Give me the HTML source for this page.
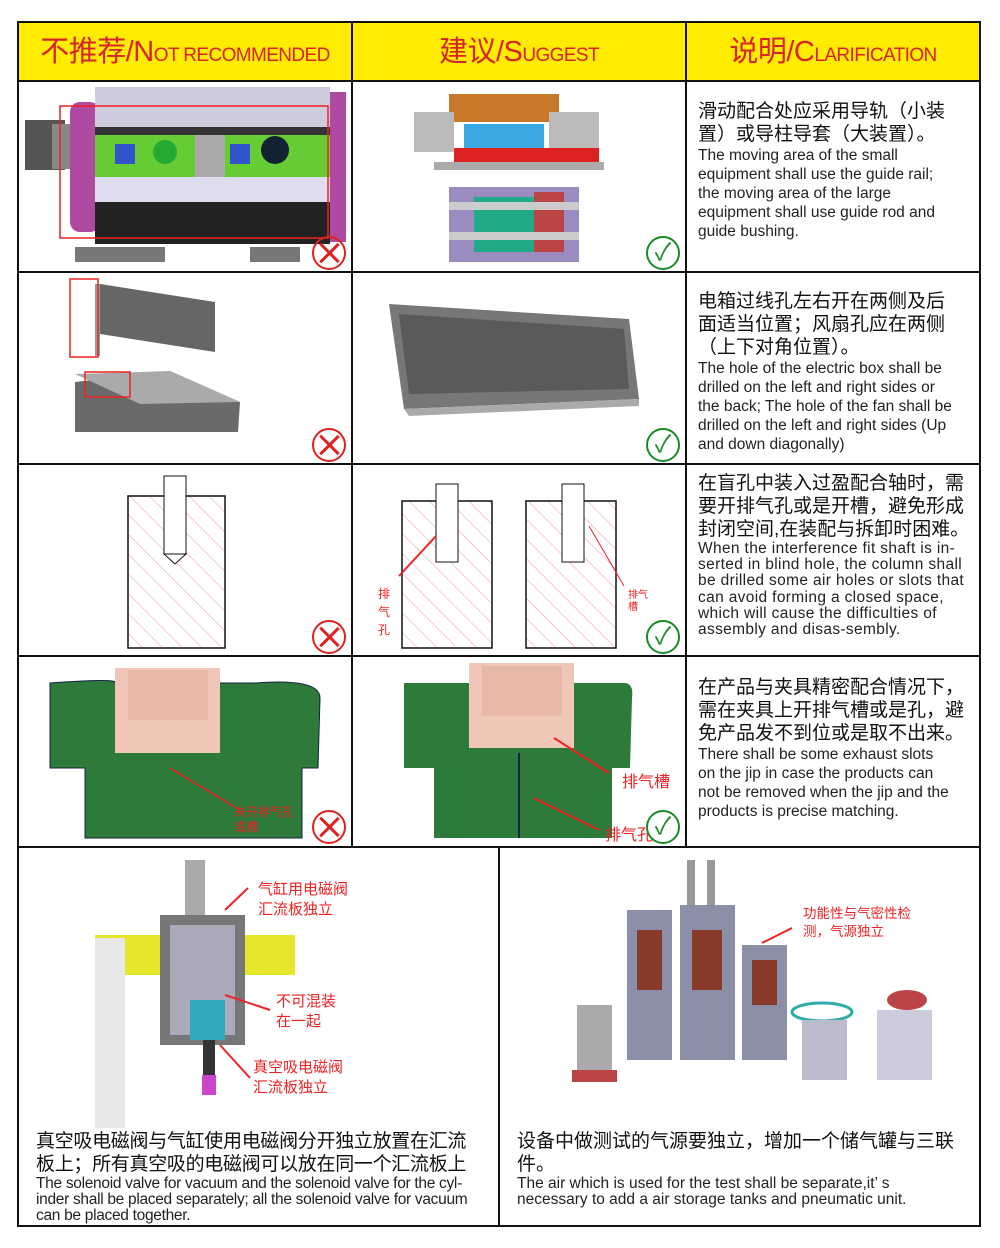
<!DOCTYPE html><html><head><meta charset="utf-8"><style>
body{margin:0;width:1000px;height:1248px;background:#fff;position:relative;overflow:hidden;font-family:"Liberation Sans","Noto Sans CJK SC",sans-serif}
.a{position:absolute}
.h{position:absolute;top:22px;height:58px;background:#ffec00;color:#d9232a;font-size:29px;line-height:60px;text-align:center;font-family:"Liberation Sans","Noto Sans CJK SC",sans-serif;letter-spacing:-0.5px}
.h small{font-size:19px;letter-spacing:-0.6px}
.v{position:absolute;background:#111}
.t{position:absolute;color:#222;font-size:15.5px;line-height:19px}
.t b{font-weight:normal;font-size:19px;line-height:23px;display:block;color:#111}
.x{position:absolute;width:30px;height:30px;border:2.5px solid #d22;border-radius:50%}
.x:before,.x:after{content:"";position:absolute;left:14px;top:2px;width:2.5px;height:26px;background:#d22;transform:rotate(45deg)}
.x:after{transform:rotate(-45deg)}
.c{position:absolute;width:30px;height:30px;border:2.5px solid #1a8a2a;border-radius:50%;color:#1a8a2a;font-size:24px;line-height:30px;text-align:center}
.r{color:#e22;position:absolute;font-size:14px;line-height:20px}
</style></head><body>
<svg width="0" height="0" style="position:absolute"><defs><pattern id="hp" width="14" height="14" patternUnits="userSpaceOnUse" patternTransform="rotate(-45)"><line x1="0" y1="0" x2="0" y2="14" stroke="#f08080" stroke-width="0.8"/></pattern></defs></svg>
<div class="h" style="left:18px;width:334px">不推荐/N<small>OT RECOMMENDED</small></div>
<div class="h" style="left:352px;width:334px">建议/S<small>UGGEST</small></div>
<div class="h" style="left:686px;width:294px">说明/C<small>LARIFICATION</small></div>
<div class="v" style="left:17px;top:21px;width:964px;height:2px"></div>
<div class="v" style="left:17px;top:80px;width:964px;height:2px"></div>
<div class="v" style="left:17px;top:271px;width:964px;height:2px"></div>
<div class="v" style="left:17px;top:463px;width:964px;height:2px"></div>
<div class="v" style="left:17px;top:655px;width:964px;height:2px"></div>
<div class="v" style="left:17px;top:846px;width:964px;height:2px"></div>
<div class="v" style="left:17px;top:1225px;width:964px;height:2px"></div>
<div class="v" style="left:17px;top:21px;width:2px;height:1206px"></div>
<div class="v" style="left:979px;top:21px;width:2px;height:1206px"></div>
<div class="v" style="left:351px;top:21px;width:2px;height:826px"></div>
<div class="v" style="left:685px;top:21px;width:2px;height:826px"></div>
<div class="v" style="left:498px;top:846px;width:2px;height:380px"></div>

<svg class="a" style="left:20px;top:82px" width="330" height="189">
<rect x="5" y="38" width="40" height="50" fill="#555"/><rect x="32" y="42" width="40" height="45" fill="#888"/>
<rect x="50" y="20" width="30" height="130" rx="10" fill="#b04aa0"/>
<rect x="75" y="5" width="235" height="40" fill="#ccd"/><rect x="75" y="45" width="235" height="8" fill="#333"/>
<rect x="75" y="53" width="235" height="42" fill="#6c3"/><rect x="175" y="53" width="30" height="42" fill="#aaa"/>
<circle cx="145" cy="70" r="12" fill="#2a3"/><rect x="95" y="62" width="20" height="20" fill="#35c"/><rect x="210" y="62" width="20" height="20" fill="#35c"/><circle cx="255" cy="68" r="14" fill="#123"/>
<rect x="75" y="95" width="235" height="25" fill="#dde"/><rect x="75" y="120" width="235" height="42" fill="#222"/>
<rect x="310" y="10" width="16" height="150" fill="#b04aa0"/><rect x="55" y="165" width="90" height="15" fill="#777"/><rect x="230" y="165" width="50" height="15" fill="#777"/>
<rect x="40" y="24" width="268" height="132" fill="none" stroke="#e22" stroke-width="1.5"/>
</svg>
<div class="x" style="left:312px;top:236px"></div>
<svg class="a" style="left:354px;top:82px" width="330" height="189">
<rect x="95" y="12" width="110" height="28" fill="#c87a2a"/><rect x="110" y="42" width="80" height="25" fill="#3aa9e0"/>
<rect x="60" y="30" width="40" height="40" fill="#bbb"/><rect x="195" y="30" width="50" height="40" fill="#bbb"/>
<rect x="100" y="66" width="145" height="20" fill="#d22"/><rect x="80" y="80" width="170" height="8" fill="#aaa"/>
<rect x="95" y="105" width="130" height="75" fill="#9a8bc0"/><rect x="120" y="115" width="70" height="55" fill="#2a8"/>
<rect x="180" y="110" width="30" height="60" fill="#b44"/><rect x="95" y="120" width="130" height="8" fill="#ccc"/><rect x="95" y="150" width="130" height="8" fill="#ccc"/>
</svg>
<div class="c" style="left:646px;top:236px">✓</div>
<div class="t" style="left:698px;top:100px;width:256px"><b>滑动配合处应采用导轨（小装置）或导柱导套（大装置）。</b>The moving area of the small equipment shall use the guide rail; the moving area of the large equipment shall use guide rod and guide bushing.</div>

<svg class="a" style="left:20px;top:274px" width="330" height="189">
<polygon points="80,10 195,28 195,78 80,60" fill="#666"/><polygon points="75,10 80,10 80,82 75,82" fill="#999"/>
<polygon points="55,108 150,97 220,128 218,158 55,158" fill="#6a6a6a"/><polygon points="55,100 150,97 220,128 120,130" fill="#aaa"/>
<rect x="50" y="5" width="28" height="78" fill="none" stroke="#e22" stroke-width="1.5"/><rect x="65" y="98" width="45" height="25" fill="none" stroke="#e22" stroke-width="1.5"/>
</svg>
<div class="x" style="left:312px;top:428px"></div>
<svg class="a" style="left:354px;top:274px" width="330" height="189">
<polygon points="35,30 275,45 285,125 50,135" fill="#777"/><polygon points="45,40 270,55 275,115 55,120" fill="#5a5a5a"/>
<polygon points="50,135 285,125 285,132 55,142" fill="#aaa"/>
</svg>
<div class="c" style="left:646px;top:428px">✓</div>
<div class="t" style="left:698px;top:290px;width:260px"><b>电箱过线孔左右开在两侧及后面适当位置；风扇孔应在两侧（上下对角位置）。</b>The hole of the electric box shall be drilled on the left and right sides or the back; The hole of the fan shall be drilled on the left and right sides (Up and down diagonally)</div>

<svg class="a" style="left:20px;top:466px" width="330" height="189">
<rect x="108" y="30" width="97" height="152" fill="url(#hp)" stroke="#111" stroke-width="1.5"/>
<rect x="144" y="10" width="22" height="78" fill="#fff" stroke="#111"/><polygon points="144,88 166,88 155,98" fill="#fff" stroke="#111"/>
</svg>
<div class="x" style="left:312px;top:620px"></div>
<svg class="a" style="left:354px;top:466px" width="330" height="189">
<rect x="48" y="35" width="90" height="147" fill="url(#hp)" stroke="#111" stroke-width="1.5"/><rect x="172" y="35" width="90" height="147" fill="url(#hp)" stroke="#111" stroke-width="1.5"/>
<rect x="82" y="18" width="22" height="78" fill="#fff" stroke="#111"/><rect x="208" y="18" width="22" height="78" fill="#fff" stroke="#111"/>
<line x1="82" y1="70" x2="45" y2="110" stroke="#e22" stroke-width="2"/><line x1="235" y1="60" x2="270" y2="120" stroke="#e22"/>
</svg>
<div class="r" style="left:378px;top:585px;width:14px;font-size:12px;line-height:18px">排气孔</div>
<div class="r" style="left:628px;top:590px;font-size:10px;width:22px;line-height:12px">排气槽</div>
<div class="c" style="left:646px;top:620px">✓</div>
<div class="t" style="left:698px;top:472px;width:280px;font-size:15.5px;line-height:16.2px"><b>在盲孔中装入过盈配合轴时，需要开排气孔或是开槽，避免形成封闭空间,在装配与拆卸时困难。</b><span style="letter-spacing:.35px;display:block;width:276px">When the interference fit shaft is in-serted in blind hole, the column shall be drilled some air holes or slots that can avoid forming a closed space, which will cause the difficulties of assembly and disas-sembly.</span></div>

<svg class="a" style="left:20px;top:658px" width="330" height="189">
<path d="M30,25 Q100,20 95,25 L235,25 Q300,20 300,40 L298,110 L282,110 L282,180 L65,180 L65,110 L30,110 Z" fill="#2d7a3a" stroke="#124" />
<rect x="95" y="10" width="105" height="85" fill="#f0c6b8"/><rect x="108" y="12" width="80" height="50" fill="#e8b8a8"/>
<line x1="150" y1="110" x2="220" y2="152" stroke="#e22" stroke-width="1.5"/>
</svg>
<div class="r" style="left:234px;top:805px;font-size:12px;line-height:15px">未开排气孔<br>或槽</div>
<div class="x" style="left:312px;top:810px"></div>
<svg class="a" style="left:354px;top:658px" width="330" height="189">
<path d="M50,25 L270,25 Q280,25 278,40 L276,110 L258,110 L258,180 L80,180 L80,110 L50,110 Z" fill="#2d7a3a"/>
<rect x="115" y="5" width="105" height="85" fill="#f0c6b8"/><rect x="128" y="8" width="80" height="50" fill="#e8b8a8"/>
<line x1="165" y1="95" x2="165" y2="180" stroke="#124" stroke-width="2"/>
<line x1="200" y1="80" x2="255" y2="115" stroke="#e22" stroke-width="2"/><line x1="180" y1="140" x2="245" y2="172" stroke="#e22" stroke-width="2"/>
</svg>
<div class="r" style="left:622px;top:773px;font-size:16px">排气槽</div>
<div class="r" style="left:605px;top:826px;font-size:16px">排气孔</div>
<div class="c" style="left:646px;top:810px">✓</div>
<div class="t" style="left:698px;top:676px;width:268px"><b>在产品与夹具精密配合情况下，需在夹具上开排气槽或是孔，避免产品发不到位或是取不出来。</b><span style="display:block;width:254px">There shall be some exhaust slots on the jip in case the products can not be removed when the jip and the products is precise matching.</span></div>

<svg class="a" style="left:20px;top:850px" width="478" height="280">
<rect x="75" y="85" width="200" height="40" fill="#e6e62a"/><rect x="75" y="88" width="30" height="190" fill="#e8e8e8"/>
<rect x="165" y="10" width="20" height="70" fill="#aaa"/><rect x="140" y="65" width="85" height="130" fill="#777"/>
<rect x="150" y="75" width="65" height="110" fill="#aab"/><rect x="170" y="150" width="35" height="40" fill="#3ab"/>
<rect x="183" y="190" width="12" height="50" fill="#333"/><rect x="182" y="225" width="14" height="20" fill="#c4c"/>
<line x1="205" y1="60" x2="228" y2="38" stroke="#e22" stroke-width="2"/><line x1="205" y1="145" x2="250" y2="160" stroke="#e22" stroke-width="2"/><line x1="200" y1="195" x2="230" y2="228" stroke="#e22" stroke-width="2"/>
</svg>
<div class="r" style="left:258px;top:880px;font-size:15px;width:90px">气缸用电磁阀汇流板独立</div>
<div class="r" style="left:276px;top:992px;font-size:15px;width:70px">不可混装在一起</div>
<div class="r" style="left:253px;top:1058px;font-size:15px;width:90px">真空吸电磁阀汇流板独立</div>
<div class="t" style="left:36px;top:1130px;width:445px;font-size:15.5px;line-height:16px;letter-spacing:-.3px"><b style="line-height:23px">真空吸电磁阀与气缸使用电磁阀分开独立放置在汇流板上；所有真空吸的电磁阀可以放在同一个汇流板上</b>The solenoid valve for vacuum and the solenoid valve for the cyl-inder shall be placed separately; all the solenoid valve for vacuum can be placed together.</div>

<svg class="a" style="left:502px;top:850px" width="476" height="250">
<rect x="185" y="10" width="8" height="60" fill="#999"/><rect x="205" y="10" width="8" height="60" fill="#999"/>
<rect x="125" y="60" width="45" height="150" fill="#8b8fa8"/><rect x="178" y="55" width="55" height="155" fill="#8b8fa8"/><rect x="240" y="95" width="45" height="115" fill="#8b8fa8"/>
<rect x="135" y="80" width="25" height="60" fill="#8a3a2a"/><rect x="190" y="80" width="30" height="60" fill="#8a3a2a"/><rect x="250" y="110" width="25" height="45" fill="#8a3a2a"/>
<rect x="75" y="155" width="35" height="75" fill="#aaa"/><rect x="70" y="220" width="45" height="12" fill="#b44"/>
<ellipse cx="320" cy="162" rx="30" ry="9" fill="none" stroke="#3aa" stroke-width="3"/><rect x="300" y="170" width="45" height="60" fill="#bbc"/>
<rect x="375" y="160" width="55" height="70" fill="#ccd"/><ellipse cx="405" cy="150" rx="20" ry="10" fill="#b44"/>
<line x1="260" y1="93" x2="290" y2="78" stroke="#e22" stroke-width="2"/>
</svg>
<div class="r" style="left:803px;top:905px;font-size:13.5px;line-height:18px">功能性与气密性检<br>测，气源独立</div>
<div class="t" style="left:517px;top:1130px;width:440px;font-size:15.5px;line-height:16px"><b style="line-height:23px">设备中做测试的气源要独立，增加一个储气罐与三联件。</b>The air which is used for the test shall be separate,it’ s<br>necessary to add a air storage tanks and pneumatic unit.</div>
</body></html>
